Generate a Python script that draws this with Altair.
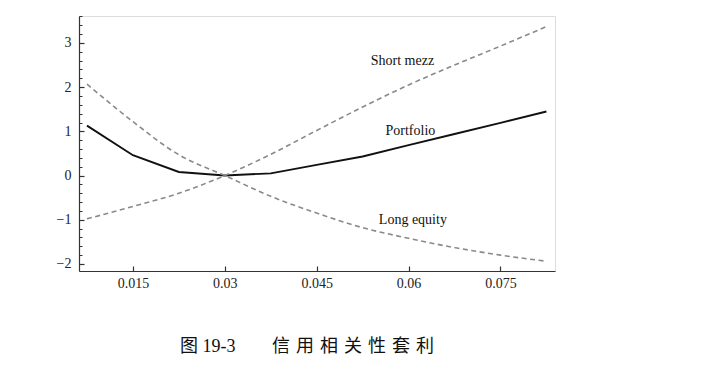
import altair as alt
import pandas as pd

# data
x_vals = [0.0075, 0.015, 0.0225, 0.03, 0.0375, 0.045, 0.0525, 0.06, 0.0675, 0.075, 0.0825]
portfolio = [1.13, 0.46, 0.08, 0.0, 0.05, 0.24, 0.43, 0.69, 0.94, 1.19, 1.45]
short_mezz = [-0.98, -0.70, -0.40, 0.0, 0.48, 1.02, 1.55, 2.05, 2.50, 2.93, 3.37]
long_equity = [2.07, 1.22, 0.47, 0.0, -0.47, -0.85, -1.18, -1.42, -1.63, -1.80, -1.94]

label_text = ["Short mezz", "Portfolio", "Long equity"]
label_x = [0.059, 0.0603, 0.0607]
label_y = [2.6, 1.01, -1.0]

x_ticks = [0.015, 0.03, 0.045, 0.06, 0.075]
y_ticks = [-2, -1, 0, 1, 2, 3]
y_minor = [round(-2.0 + 0.2 * i, 1) for i in range(29)]

caption = ("图 19-3\u2003\u2002\u2004\u2009"
           "信\u2004用\u2004相\u2004关\u2004性\u2004套\u2004利")

df_port = pd.DataFrame({"x": x_vals, "y": portfolio})
df_dash = pd.DataFrame({
    "x": x_vals * 2,
    "y": short_mezz + long_equity,
    "series": ["Short mezz"] * len(x_vals) + ["Long equity"] * len(x_vals),
})
df_lab = pd.DataFrame({"x": label_x, "y": label_y, "t": label_text})

W, H = 476, 255
xs = alt.Scale(domain=[0.0062, 0.0839], nice=False, zero=False)
ys = alt.Scale(domain=[-2.16, 3.61], nice=False, zero=False)

SERIF = "Liberation Serif"
AX = "#333333"

main_x = alt.Axis(values=x_ticks, format=".3~f", ticks=False, grid=False, title=None,
                  domainColor=AX, domainWidth=1.2, labelFont=SERIF, labelFontSize=14,
                  labelColor="#222222", labelPadding=5)
main_y = alt.Axis(values=y_ticks, format="d", ticks=False, grid=False, title=None,
                  domainColor=AX, domainWidth=1.2, labelFont=SERIF, labelFontSize=14,
                  labelColor="#222222", labelPadding=8)
tick_x = alt.Axis(orient="top", offset=-H, values=x_ticks, labels=False, domain=False,
                  grid=False, title=None, tickSize=5, tickColor=AX, tickWidth=1.2)
tick_y = alt.Axis(orient="right", offset=-W, values=y_ticks, labels=False, domain=False,
                  grid=False, title=None, tickSize=5, tickColor=AX, tickWidth=1.2)
minor_y = alt.Axis(orient="right", offset=-W, values=y_minor, labels=False, domain=False,
                   grid=False, title=None, tickSize=3, tickColor=AX, tickWidth=1)

port = alt.Chart(df_port).mark_line(color="#111111", strokeWidth=1.9).encode(
    x=alt.X("x:Q", scale=xs, axis=main_x),
    y=alt.Y("y:Q", scale=ys, axis=main_y),
)

dash = alt.Chart(df_dash).mark_line(interpolate="monotone", color="#8a8a8a",
                                    strokeWidth=1.6, strokeDash=[5, 3.5]).encode(
    x=alt.X("x:Q", scale=xs, axis=tick_x),
    y=alt.Y("y:Q", scale=ys, axis=tick_y),
    detail="series:N",
)

labels = alt.Chart(df_lab).mark_text(font=SERIF, fontSize=14, color="#111111",
                                     align="center", baseline="middle").encode(
    x=alt.X("x:Q", scale=xs, axis=None),
    y=alt.Y("y:Q", scale=ys, axis=minor_y),
    text="t:N",
)

chart = alt.layer(port, dash, labels).resolve_axis(
    x="independent", y="independent"
).properties(
    width=W, height=H,
    autosize=alt.AutoSizeParams(type="none"),
    padding={"left": 71, "top": 8, "right": 140, "bottom": 90},
    title=alt.TitleParams(caption, orient="bottom", anchor="middle", dx=-10, offset=48,
                          font="'Liberation Serif', 'Noto Sans CJK SC'", fontSize=18,
                          fontWeight="normal", color="#111111"),
).configure_view(stroke=None).configure(background="white")

chart.save("out.html", embed_options={"renderer": "svg", "actions": False})
